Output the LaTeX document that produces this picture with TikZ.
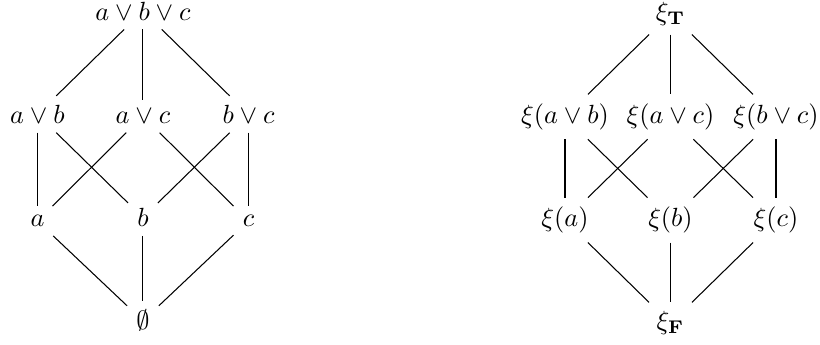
\documentclass[tikz,border=0pt]{standalone}
\usepackage{amsmath}
\usepackage{tikz}
\begin{document}
\begin{tikzpicture}[x=1.41cm,y=1.38cm,every node/.style={anchor=base}]
        \useasboundingbox(-1.355,-.145)rectangle(6.417,3.195);
        % propositions
        \node(top)at(0,3){$a\vee b\vee c$};
        \node(ab)at(-1,2){$a\vee b$};
        \node(ac)at(0,2){$a\vee c$};
        \node(bc)at(1,2){$b\vee c$};
        \node(a)at(-1,1){$a$};
        \node(b)at(0,1){$b$};
        \node(c)at(1,1){$c$};
        \node(bot)at(0,0){$\emptyset$};
        % their images
        \node(xtop)at(5,3){$\xi_{\mathbf{T}}$};
        \node(xab)at(4,2){$\xi(a\vee b)$};
        \node(xac)at(5,2){$\xi(a\vee c)$};
        \node(xbc)at(6,2){$\xi(b\vee c)$};
        \node(xa)at(4,1){$\xi(a)$};
        \node(xb)at(5,1){$\xi(b)$};
        \node(xc)at(6,1){$\xi(c)$};
        \node(xbot)at(5,0){$\xi_{\mathbf{F}}$};
        \foreach\p in{,x}{
          \foreach\u/\v in{top/ab,top/ac,top/bc,ab/a,ab/b,ac/a,ac/c,bc/b,bc/c,a/bot,b/bot,c/bot}
            \draw(\p\u)--(\p\v);
        }
      \end{tikzpicture}
\end{document}
